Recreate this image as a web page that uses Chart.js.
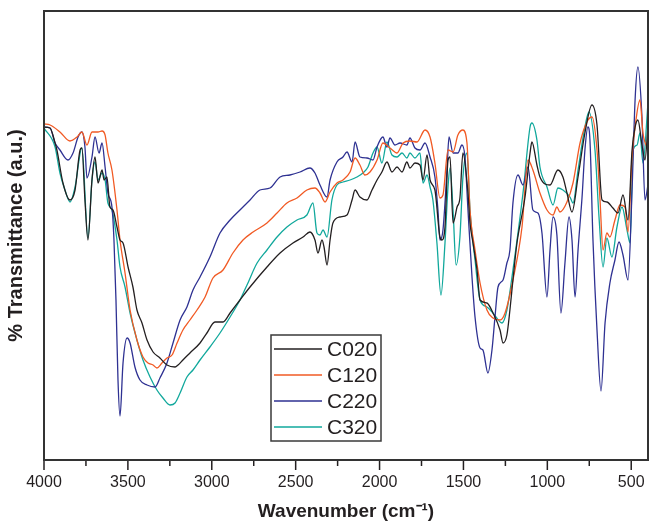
<!DOCTYPE html>
<html>
<head>
<meta charset="utf-8">
<script src="https://cdn.jsdelivr.net/npm/chart.js@4.4.1/dist/chart.umd.min.js"></script>
<style>
  html, body { margin: 0; padding: 0; background: #fff; }
  #wrap { width: 649px; height: 521px; }
</style>
</head>
<body>
<div id="wrap"><canvas id="ftir" width="649" height="521"></canvas></div>
<script>
// FTIR spectra (wavenumber in cm-1, transmittance in a.u.)
const seriesLabels = ["C020", "C120", "C220", "C320"];
const seriesColors = ["#231f20", "#f15a24", "#2e3192", "#11a89c"];

const c020Wn = [4000,3964,3934,3923,3887,3845,3815,3785,3774,3756,3738,3714,3696,3678,3654,3642,3625,3607,3589,3565,3547,3529,3499,3470,3446,3416,3386,3350,3309,3267,3219,3201,3172,3130,3070,3029,2981,2933,2891,2832,2772,2671,2593,2516,2456,2415,2385,2367,2343,2331,2313,2295,2278,2236,2194,2164,2146,2117,2075,2045,2015,1986,1956,1926,1896,1866,1837,1819,1789,1759,1741,1717,1699,1670,1640,1628,1610,1592,1580,1562,1538,1521,1503,1473,1461,1443,1419,1401,1360,1324,1282,1264,1241,1223,1205,1181,1133,1103,1092,1062,1044,984,937,907,883,853,817,776,734,704,674,645,609,579,549,519,495,477,460,436,418,400];
const c020T = [333,332,317,310,277,260,270,310,312,260,220,280,303,277,290,280,283,253,250,233,220,217,193,173,150,137,120,108,102,95,93,95,100,107,117,127,138,138,147,160,173,193,207,217,223,228,220,207,220,213,195,220,237,243,245,260,270,263,260,270,280,288,298,288,293,288,298,292,297,295,280,305,280,270,223,220,233,300,303,237,253,262,307,267,237,217,190,160,157,147,130,117,125,150,180,217,263,307,318,295,283,275,290,283,267,248,283,327,355,335,260,258,252,247,265,240,310,333,340,315,300,335];

const c120Wn = [4000,3964,3905,3845,3803,3774,3744,3714,3678,3654,3636,3619,3595,3565,3547,3517,3487,3446,3410,3380,3350,3327,3297,3267,3237,3207,3172,3130,3088,3040,2993,2933,2874,2814,2754,2671,2611,2552,2492,2433,2385,2355,2325,2295,2254,2218,2176,2146,2117,2087,2057,2015,1980,1938,1896,1860,1819,1777,1729,1699,1670,1640,1622,1592,1562,1533,1503,1479,1461,1431,1401,1360,1324,1282,1252,1205,1151,1115,1086,1044,1002,966,943,925,883,847,805,764,734,704,686,668,645,627,597,567,537,519,495,477,448,430,400];
const c120T = [336,335,328,319,323,328,315,328,328,329,325,307,290,250,220,187,150,120,103,97,95,92,97,102,105,117,130,140,150,163,182,190,207,220,228,237,247,257,262,270,272,267,258,268,277,280,288,302,295,285,288,300,317,312,307,317,319,318,330,323,297,262,265,310,308,325,330,317,250,210,177,150,142,140,147,180,233,300,290,267,250,245,253,248,258,277,317,338,343,310,260,210,227,223,240,255,253,228,303,333,360,327,310];

const c220Wn = [4000,3964,3934,3905,3857,3827,3797,3774,3756,3744,3714,3696,3672,3654,3636,3619,3595,3583,3571,3559,3547,3529,3505,3487,3458,3428,3386,3338,3309,3267,3231,3189,3148,3112,3070,3011,2951,2891,2832,2772,2713,2653,2593,2534,2474,2415,2385,2355,2313,2295,2254,2218,2194,2164,2146,2117,2075,2039,2015,1980,1956,1938,1908,1878,1837,1819,1789,1759,1729,1699,1670,1652,1640,1622,1598,1586,1562,1533,1509,1491,1473,1449,1431,1401,1384,1354,1330,1312,1294,1264,1241,1223,1205,1175,1145,1115,1086,1056,1032,1002,984,966,943,919,895,871,853,835,817,793,776,758,746,728,704,680,656,627,597,573,549,519,495,477,460,436,418,400];
const c220T = [333,332,317,310,300,307,323,328,313,282,303,323,307,317,293,267,253,220,160,80,44,97,122,117,93,80,75,73,82,97,117,140,153,170,183,203,227,240,250,260,270,272,283,285,288,292,287,275,263,280,298,303,308,298,318,303,302,300,313,323,313,322,315,317,315,322,312,310,317,303,283,250,220,230,290,323,307,307,315,303,250,183,143,112,110,87,110,143,173,180,197,210,257,285,275,293,250,247,227,163,210,243,225,147,197,243,220,163,210,263,310,333,320,220,130,69,137,177,200,218,205,180,270,360,393,343,260,275];

const c320Wn = [4000,3934,3905,3875,3845,3815,3774,3738,3714,3696,3678,3654,3636,3619,3595,3565,3547,3517,3487,3446,3410,3368,3327,3291,3249,3219,3189,3148,3112,3070,3011,2951,2891,2832,2790,2730,2671,2611,2552,2492,2433,2397,2373,2355,2337,2313,2284,2254,2218,2176,2135,2099,2069,2039,2015,1986,1956,1926,1896,1866,1837,1819,1789,1759,1741,1717,1699,1682,1658,1634,1610,1592,1580,1562,1544,1521,1503,1479,1461,1431,1401,1360,1324,1270,1241,1205,1145,1103,1092,1062,1044,1002,966,937,907,865,847,817,776,752,716,692,668,645,615,585,555,525,507,489,465,448,430,400];
const c320T = [332,313,287,270,258,273,312,222,280,298,280,287,280,257,250,220,193,173,147,120,100,83,70,62,55,57,67,83,90,100,113,127,143,160,175,197,210,223,233,240,245,257,227,225,230,223,260,275,278,280,283,287,293,307,313,297,318,305,303,307,302,307,302,307,277,285,273,260,217,165,217,273,292,250,195,223,283,307,250,200,160,153,147,137,150,190,267,333,337,320,293,273,255,272,270,263,257,290,333,348,310,243,193,222,203,233,253,230,217,310,315,327,297,357];

const xTickValues = [4000, 3500, 3000, 2500, 2000, 1500, 1000, 500];
const xMinorTicks = [3750, 3250, 2750, 2250, 1750, 1250, 750];

const wnLists = [c020Wn, c120Wn, c220Wn, c320Wn];
const tLists = [c020T, c120T, c220T, c320T];

const datasets = seriesLabels.map((label, k) => ({
  label: label,
  data: wnLists[k].map((w, i) => ({ x: w, y: tLists[k][i] })),
  borderColor: seriesColors[k],
  backgroundColor: seriesColors[k],
  borderWidth: 1.3,
  pointRadius: 0,
  cubicInterpolationMode: 'monotone',
  fill: false
}));

// frame, tick marks and the boxed legend inside the plot
const frameAndLegend = {
  id: 'frameAndLegend',
  afterDraw(chart) {
    const ctx = chart.ctx;
    const a = chart.chartArea;
    const xs = chart.scales.x;
    ctx.save();
    ctx.strokeStyle = '#231f20';
    ctx.lineWidth = 1.5;
    xTickValues.forEach(v => {
      const px = xs.getPixelForValue(v);
      ctx.beginPath(); ctx.moveTo(px, a.bottom); ctx.lineTo(px, a.bottom + 10); ctx.stroke();
    });
    xMinorTicks.forEach(v => {
      const px = xs.getPixelForValue(v);
      ctx.beginPath(); ctx.moveTo(px, a.bottom); ctx.lineTo(px, a.bottom + 6); ctx.stroke();
    });
    ctx.lineWidth = 2;
    ctx.strokeStyle = '#333333';
    ctx.strokeRect(a.left, a.top, a.right - a.left, a.bottom - a.top);

    // legend box
    const bx = 271, by = 335, bw = 110, bh = 106;
    ctx.fillStyle = '#ffffff';
    ctx.fillRect(bx, by, bw, bh);
    ctx.lineWidth = 1.5;
    ctx.strokeStyle = '#3a3a3a';
    ctx.strokeRect(bx, by, bw, bh);
    ctx.font = '21px "Liberation Sans", Arial, sans-serif';
    ctx.textBaseline = 'middle';
    chart.data.datasets.forEach((ds, i) => {
      const y = by + 14 + i * 26;
      ctx.strokeStyle = ds.borderColor;
      ctx.lineWidth = 1.5;
      ctx.beginPath(); ctx.moveTo(bx + 3, y); ctx.lineTo(bx + 51, y); ctx.stroke();
      ctx.fillStyle = '#231f20';
      ctx.fillText(ds.label, bx + 56, y + 1);
    });
    ctx.restore();
  }
};

new Chart(document.getElementById('ftir'), {
  type: 'line',
  data: { datasets: datasets },
  options: {
    responsive: false,
    animation: false,
    layout: { padding: { top: 11, right: 1, left: 0, bottom: 0 } },
    plugins: {
      legend: { display: false },
      tooltip: { enabled: false }
    },
    scales: {
      x: {
        type: 'linear',
        reverse: true,
        min: 400,
        max: 4000,
        afterBuildTicks: (scale) => { scale.ticks = xTickValues.map(v => ({ value: v })); },
        afterFit: (scale) => {
          scale.height = 61;
          scale.paddingLeft = 0;
          scale.paddingRight = 0;
        },
        grid: { display: false, drawTicks: false },
        border: { display: false },
        ticks: {
          padding: 13,
          maxRotation: 0,
          autoSkip: false,
          color: '#231f20',
          font: { family: '"Liberation Sans", Arial, sans-serif', size: 16 },
          callback: (v) => String(v)
        },
        title: {
          display: true,
          text: 'Wavenumber (cm⁻¹)',
          color: '#231f20',
          padding: { top: 4, bottom: 0 },
          font: { family: '"Liberation Sans", Arial, sans-serif', size: 19, weight: 'bold', lineHeight: 1 }
        }
      },
      y: {
        min: 0,
        max: 449,
        afterFit: (scale) => { scale.width = 44; },
        grid: { display: false, drawTicks: false },
        border: { display: false },
        ticks: { display: false },
        title: {
          display: true,
          text: '% Transmittance (a.u.)',
          color: '#231f20',
          padding: { top: 6, bottom: 0 },
          font: { family: '"Liberation Sans", Arial, sans-serif', size: 20, weight: 'bold', lineHeight: 1 }
        }
      }
    }
  },
  plugins: [frameAndLegend]
});
</script>
</body>
</html>
